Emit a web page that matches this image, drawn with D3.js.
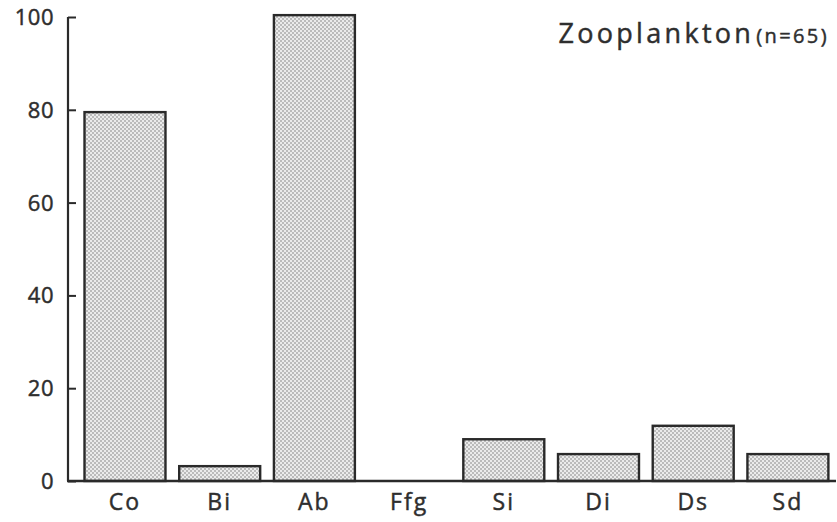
<!DOCTYPE html>
<html><head><meta charset="utf-8">
<script src="https://cdn.jsdelivr.net/npm/d3@7"></script>
<style>body{margin:0;background:#fff}svg{display:block}text{font-family:"Open Sans",sans-serif;fill:#2e2e2e;stroke:#2e2e2e;stroke-width:0.45}</style>
</head><body>
<svg id="c" width="837" height="522"></svg>
<script>
const categories = ["Co","Bi","Ab","Ffg","Si","Di","Ds","Sd"];
const values = [79.5, 3.2, 100.4, 0, 9, 5.8, 11.9, 5.8];
const yTicks = [0, 20, 40, 60, 80, 100];
const titleMain = "Zooplankton";
const titleSub = "(n=65)";

const svg = d3.select("#c");
const defs = svg.append("defs");
const pat = defs.append("pattern").attr("id","dots").attr("patternUnits","userSpaceOnUse")
  .attr("width",4).attr("height",4);
pat.append("rect").attr("width",4).attr("height",4).attr("fill","#ebebeb");
pat.append("circle").attr("cx",1).attr("cy",1).attr("r",0.8).attr("fill","#7e7e7e");
pat.append("circle").attr("cx",3).attr("cy",3).attr("r",0.8).attr("fill","#7e7e7e");

const y = d3.scaleLinear().domain([0,100]).range([481,17]);
const x = d3.scaleBand().domain(categories).range([70.3,842.6]).paddingInner(0.145).paddingOuter(0.15);

// bars
svg.append("g").selectAll("rect").data(categories.map((c,i)=>({c,v:values[i]})).filter(d=>d.v>0))
  .join("rect")
  .attr("x",d=>x(d.c)).attr("width",x.bandwidth())
  .attr("y",d=>y(d.v)).attr("height",d=>y(0)-y(d.v))
  .attr("fill","url(#dots)").attr("stroke","#2a2a2a").attr("stroke-width",2.4);

// baseline
svg.append("line").attr("x1",67).attr("x2",836).attr("y1",y(0)).attr("y2",y(0))
  .attr("stroke","#2a2a2a").attr("stroke-width",2.4);

// y axis
const yAxis = d3.axisRight(y).tickValues(yTicks).tickSize(8).tickFormat("");
const gy = svg.append("g").attr("transform","translate(68,0)").call(yAxis);
gy.select(".domain").attr("d",`M0,${y(100)}V${y(0)}`).attr("stroke","#2a2a2a").attr("stroke-width",2.2);
gy.selectAll(".tick line").attr("stroke","#2a2a2a").attr("stroke-width",2);
svg.append("g").selectAll("text").data(yTicks).join("text")
  .attr("x",54).attr("y",d=>y(d)).attr("dy","0.36em").attr("text-anchor","end")
  .attr("font-size",22).attr("letter-spacing",0.5).text(d=>d);

// x labels
svg.append("g").selectAll("text").data(categories).join("text")
  .attr("x",d=>x(d)+x.bandwidth()/2).attr("y",510).attr("text-anchor","middle")
  .attr("font-size",23).attr("letter-spacing",2).text(d=>d);

// title
const t = svg.append("text").attr("x",829).attr("y",43).attr("text-anchor","end");
t.append("tspan").attr("font-size",27).attr("letter-spacing",3.3).text(titleMain);
t.append("tspan").attr("font-size",20).attr("dx",2).attr("letter-spacing",2.4).text(titleSub);
</script>
</body></html>
